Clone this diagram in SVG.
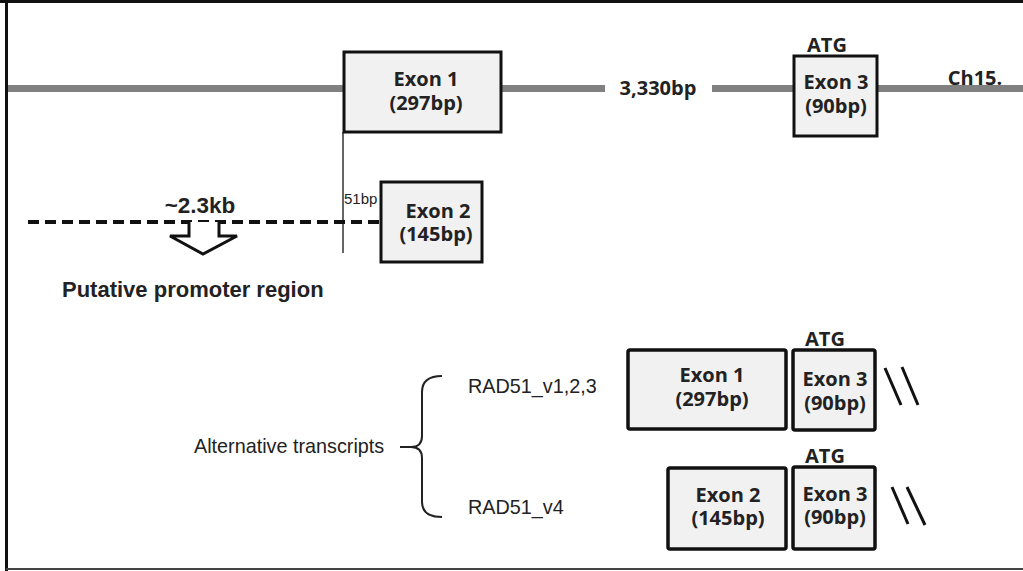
<svg xmlns="http://www.w3.org/2000/svg" width="1023" height="571" viewBox="0 0 1023 571">
<style>
.exon{fill:#f1f1f1;stroke:#111;stroke-width:3}
.exon2{fill:#f1f1f1;stroke:#111;stroke-width:3.5}
.lbl{font-family:"Open Sans","Noto Sans",sans-serif;font-weight:bold;font-size:20px;fill:#222;text-anchor:middle}
.ar{font-family:"Liberation Sans",Arial,sans-serif;fill:#222}
.chr{stroke:#808080;stroke-width:7;fill:none}
.slash{stroke:#111;stroke-width:3;fill:none}
</style>
<rect x="0" y="0" width="1023" height="571" fill="#fff"/>
<g id="frame">
<line x1="0" y1="1.5" x2="1023" y2="1.5" stroke="#111" stroke-width="3"/>
<line x1="6.5" y1="0" x2="6.5" y2="571" stroke="#111" stroke-width="3"/>
<line x1="6" y1="569" x2="1023" y2="569" stroke="#444" stroke-width="2"/>
</g>
<g id="connectors">
<line class="chr" x1="8" y1="88.5" x2="343" y2="88.5"/>
<line class="chr" x1="501" y1="88.5" x2="605" y2="88.5"/>
<line class="chr" x1="712" y1="88.5" x2="794" y2="88.5"/>
<line class="chr" x1="877" y1="88.5" x2="1023" y2="88.5"/>
<line x1="343" y1="132" x2="343" y2="253" stroke="#333" stroke-width="1.5"/>
<line x1="28" y1="222" x2="381" y2="222" stroke="#111" stroke-width="4" stroke-dasharray="11,6"/>
<path d="M189,222 L189,236 L170,236 L203,254 L237,236 L219,236 L219,222" fill="#fff" stroke="#111" stroke-width="3" stroke-linejoin="miter"/>
<path d="M442,376 Q422,376 422,392 L422,436 Q422,447 411,447 L400,447 M411,447 Q422,447 422,458 L422,502 Q422,517 442,517" fill="none" stroke="#222" stroke-width="2"/>
<line class="slash" x1="885" y1="368" x2="901" y2="405"/>
<line class="slash" x1="902" y1="367" x2="918" y2="405"/>
<line class="slash" x1="892" y1="487" x2="908" y2="524"/>
<line class="slash" x1="907" y1="487" x2="925" y2="525"/>
</g>
<g id="exon1-top">
<rect class="exon" x="344" y="52" width="157" height="80"/>
<text class="lbl" x="426" y="86">Exon 1</text>
<text class="lbl" x="426" y="110">(297bp)</text>
</g>
<g id="intron-label">
<text class="lbl" x="658" y="95">3,330bp</text>
</g>
<g id="exon3-top">
<text class="lbl" x="827" y="52">ATG</text>
<rect class="exon" x="794" y="56" width="83" height="80"/>
<text class="lbl" x="836" y="89">Exon 3</text>
<text class="lbl" x="836" y="113">(90bp)</text>
</g>
<g id="chr-label">
<text class="lbl" x="975" y="85">Ch15.</text>
</g>
<g id="exon2-top">
<rect class="exon" x="381" y="182" width="101" height="80"/>
<text class="lbl" x="438" y="218">Exon 2</text>
<text class="lbl" x="436" y="241">(145bp)</text>
<text class="ar" x="344" y="204" font-size="15" fill="#444">51bp</text>
</g>
<g id="promoter">
<text class="ar" x="200" y="213" font-size="22.5" font-weight="bold" text-anchor="middle">~2.3kb</text>
<text class="ar" x="62" y="297" font-size="22" font-weight="bold">Putative promoter region</text>
</g>
<g id="transcripts">
<text class="ar" x="194" y="453" font-size="19.8">Alternative transcripts</text>
<text class="ar" x="468" y="393" font-size="19.8">RAD51_v1,2,3</text>
<text class="ar" x="468" y="514" font-size="19.8">RAD51_v4</text>
</g>
<g id="v1">
<rect class="exon2" x="628" y="350" width="158" height="79" rx="2"/>
<text class="lbl" x="712" y="382">Exon 1</text>
<text class="lbl" x="712" y="406">(297bp)</text>
<text class="lbl" x="825" y="346">ATG</text>
<rect class="exon2" x="793" y="350" width="82" height="80" rx="2"/>
<text class="lbl" x="835" y="386">Exon 3</text>
<text class="lbl" x="835" y="410">(90bp)</text>
</g>
<g id="v4">
<rect class="exon2" x="668" y="468" width="118" height="81" rx="2"/>
<text class="lbl" x="728" y="502">Exon 2</text>
<text class="lbl" x="728" y="525">(145bp)</text>
<text class="lbl" x="825" y="463">ATG</text>
<rect class="exon2" x="793" y="467" width="82" height="82" rx="2"/>
<text class="lbl" x="835" y="501">Exon 3</text>
<text class="lbl" x="835" y="524">(90bp)</text>
</g>
</svg>
